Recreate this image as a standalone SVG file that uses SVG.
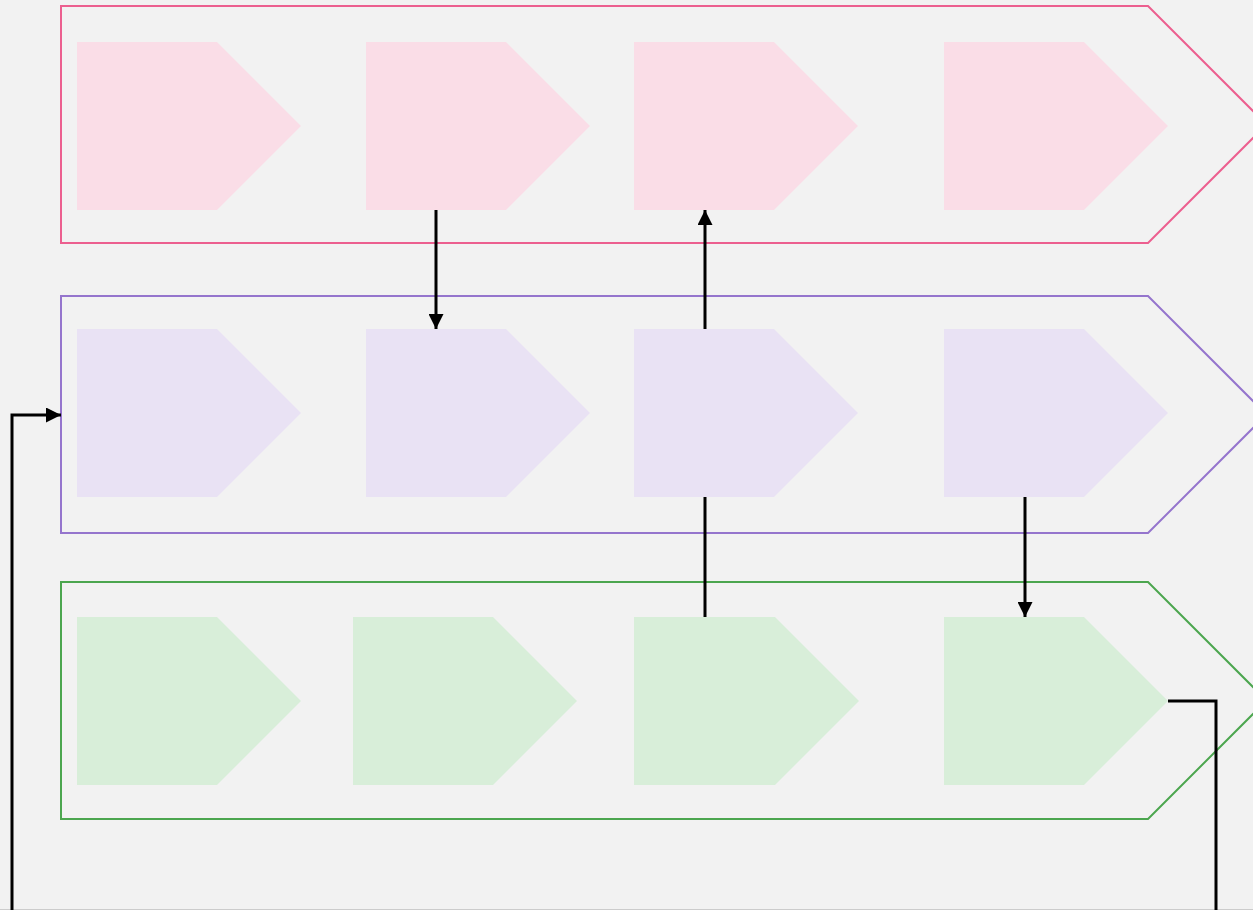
<svg xmlns="http://www.w3.org/2000/svg" width="1253" height="910" viewBox="0 0 1253 910">
<style>
.lane{fill:none;stroke-width:2}
.pink .lane{stroke:#ec5f8f}
.purple .lane{stroke:#9575cd}
.green .lane{stroke:#4ca64f}
.pink .step{fill:#fadde7}
.purple .step{fill:#e9e2f4}
.green .step{fill:#d8eed9}
.conn{fill:none;stroke:#000;stroke-width:3}
</style>
<defs>
<marker id="ah" viewBox="0 0 10 10" refX="10" refY="5" markerWidth="5" markerHeight="5" markerUnits="strokeWidth" orient="auto">
<path d="M0 0 L10 5 L0 10 Z" fill="#000"/>
</marker>
</defs>
<rect width="1253" height="910" fill="#f2f2f2"/>
<line x1="0" y1="909.5" x2="1253" y2="909.5" stroke="#cccccc" stroke-width="1"/>
<g id="row1" class="pink">
<polygon class="lane" points="61,6 1148,6 1266.5,124.5 1148,243 61,243"/>
<polygon id="p1" class="step" points="77,42 217,42 301,126 217,210 77,210"/>
<polygon id="p2" class="step" points="366,42 506,42 590,126 506,210 366,210"/>
<polygon id="p3" class="step" points="634,42 774,42 858,126 774,210 634,210"/>
<polygon id="p4" class="step" points="944,42 1084,42 1168,126 1084,210 944,210"/>
</g>
<g id="row2" class="purple">
<polygon class="lane" points="61,296 1148,296 1266.5,414.5 1148,533 61,533"/>
<polygon id="v1" class="step" points="77,329 217,329 301,413 217,497 77,497"/>
<polygon id="v2" class="step" points="366,329 506,329 590,413 506,497 366,497"/>
<polygon id="v3" class="step" points="634,329 774,329 858,413 774,497 634,497"/>
<polygon id="v4" class="step" points="944,329 1084,329 1168,413 1084,497 944,497"/>
</g>
<g id="row3" class="green">
<polygon class="lane" points="61,582 1148,582 1266.5,700.5 1148,819 61,819"/>
<polygon id="g1" class="step" points="77,617 217,617 301,701 217,785 77,785"/>
<polygon id="g2" class="step" points="353,617 493,617 577,701 493,785 353,785"/>
<polygon id="g3" class="step" points="634,617 775,617 859,701 775,785 634,785"/>
<polygon id="g4" class="step" points="944,617 1084,617 1168,701 1084,785 944,785"/>
</g>
<g id="connectors">
<path class="conn" d="M436 210 V329" marker-end="url(#ah)"/>
<path class="conn" d="M705 329 V210" marker-end="url(#ah)"/>
<path class="conn" d="M705 497 V617"/>
<path class="conn" d="M1025 497 V617" marker-end="url(#ah)"/>
<path class="conn" d="M1168 701 H1216 V940 H12 V415 H61" marker-end="url(#ah)"/>
</g>
</svg>
